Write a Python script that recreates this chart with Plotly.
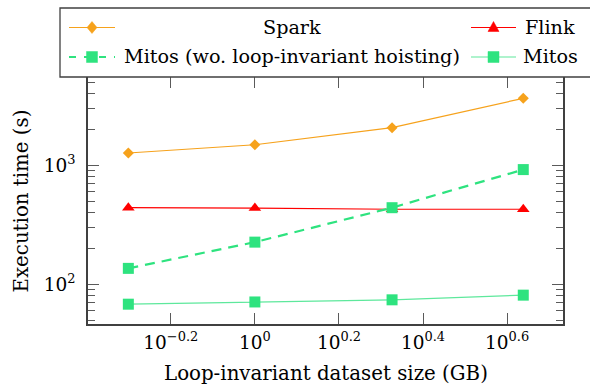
import plotly.graph_objects as go

W, H = 590, 385

# ---- data ----
sizes_gb = [0.5, 1.0, 2.12, 4.35]
spark = [1268, 1488, 2070, 3655]
flink = [440, 437, 427, 427]
mitos_no_hoist = [136, 226, 440, 920]
mitos = [68, 71, 74, 81]

series_names = ["Spark", "Flink", "Mitos (wo. loop-invariant hoisting)", "Mitos"]

x_tick_vals = [10 ** -0.2, 10 ** 0, 10 ** 0.2, 10 ** 0.4, 10 ** 0.6]
x_tick_text = ["10<sup>\u22120.2</sup>", "10<sup>0</sup>", "10<sup>0.2</sup>",
               "10<sup>0.4</sup>", "10<sup>0.6</sup>"]
y_tick_vals = [100, 1000]
y_tick_text = ["10<sup>2</sup>", "10<sup>3</sup>"]
y_minor_vals = [50, 60, 70, 80, 90, 200, 300, 400, 500, 600, 700, 800, 900,
                2000, 3000, 4000, 5000]

x_title = "Loop-invariant dataset size (GB)"
y_title = "Execution time (s)"

# ---- style ----
ORANGE = "#F6A21C"
RED = "#FF0000"
GREEN = "#2EE37F"
GREEN_LINE = "#5EE89C"
AXIS = "#404040"
TICK = "#5a5a5a"
FONT = "DejaVu Serif"
FS = 19.8
FS_LEG = 19.2
FS_TICK = 18.5


def px(x):
    return x / W


def py(y):
    return 1 - y / H


L, R, T, B = 88, 563, 77, 324

fig = go.Figure()
fig.add_trace(go.Scatter(x=sizes_gb, y=spark, mode="lines+markers", name=series_names[0],
                         line=dict(color=ORANGE, width=1.2),
                         marker=dict(symbol="diamond", size=8.5, color=ORANGE)))
fig.add_trace(go.Scatter(x=sizes_gb, y=flink, mode="lines+markers", name=series_names[1],
                         line=dict(color=RED, width=1.2),
                         marker=dict(symbol="triangle-up", size=11, color=RED)))
fig.add_trace(go.Scatter(x=sizes_gb, y=mitos_no_hoist, mode="lines+markers", name=series_names[2],
                         line=dict(color=GREEN, width=2.2, dash="10px,7px"),
                         marker=dict(symbol="square", size=11, color=GREEN)))
fig.add_trace(go.Scatter(x=sizes_gb, y=mitos, mode="lines+markers", name=series_names[3],
                         line=dict(color=GREEN_LINE, width=1.2),
                         marker=dict(symbol="square", size=11, color=GREEN)))

fig.update_layout(
    width=W, height=H,
    margin=dict(l=0, r=0, t=0, b=0),
    paper_bgcolor="white", plot_bgcolor="white",
    showlegend=False,
    font=dict(family=FONT, size=FS, color="black"),
    xaxis=dict(
        type="log", domain=[px(L), px(R)], range=[-0.397, 0.733],
        tickmode="array", tickvals=x_tick_vals, ticktext=x_tick_text,
        ticks="inside", ticklen=11, tickcolor=TICK, tickwidth=1,
        showline=True, linecolor=AXIS, linewidth=1.5, mirror="ticks",
        showgrid=False, zeroline=False, automargin=False,
        ticklabelstandoff=1,
        tickfont=dict(family=FONT, size=FS_TICK),
    ),
    yaxis=dict(
        type="log", domain=[py(B), py(T)], range=[1.666, 3.742],
        tickmode="array", tickvals=y_tick_vals, ticktext=y_tick_text,
        ticks="inside", ticklen=11, tickcolor=TICK, tickwidth=1,
        minor=dict(tickmode="array", tickvals=y_minor_vals, ticks="inside",
                   ticklen=7, tickcolor=TICK, tickwidth=1, showgrid=False),
        showline=True, linecolor=AXIS, linewidth=1.5, mirror="ticks",
        showgrid=False, zeroline=False, automargin=False,
        ticklabelstandoff=7,
        tickfont=dict(family=FONT, size=FS_TICK),
    ),
)

# axis titles
fig.add_annotation(text=x_title, x=px((L + R) / 2), y=py(373), xref="paper", yref="paper",
                   showarrow=False, xanchor="center", yanchor="middle",
                   font=dict(family=FONT, size=FS))
fig.add_annotation(text=y_title, x=px(21), y=py((T + B) / 2 + 1), xref="paper", yref="paper",
                   showarrow=False, xanchor="center", yanchor="middle", textangle=-90,
                   font=dict(family=FONT, size=FS))

# ---- custom legend ----
shapes = []
shapes.append(dict(type="rect", xref="paper", yref="paper",
                   x0=px(60), x1=px(600), y0=py(77), y1=py(8),
                   line=dict(color=AXIS, width=1.3), fillcolor="white", layer="above"))


def seg(x0, x1, y, color, width, dash="solid"):
    return dict(type="line", xref="paper", yref="paper", x0=px(x0), x1=px(x1),
                y0=py(y), y1=py(y), line=dict(color=color, width=width, dash=dash),
                layer="above")


def poly(pts, color):
    d = "M " + " L ".join(f"{px(a):.5f},{py(b):.5f}" for a, b in pts) + " Z"
    return dict(type="path", xref="paper", yref="paper", path=d,
                fillcolor=color, line=dict(color=color, width=0.5), layer="above")


r1, r2 = 27.5, 57
c1a, c1b, c1m = 69, 115, 92
c2a, c2b, c2m = 471, 516, 493.5

shapes.append(seg(c1a, c1b, r1, ORANGE, 1.2))
shapes.append(poly([(c1m - 5, r1), (c1m, r1 - 6), (c1m + 5, r1), (c1m, r1 + 6)], ORANGE))
shapes.append(seg(c2a, c2b, r1, RED, 1.2))
shapes.append(poly([(c2m - 5.5, r1 + 4), (c2m + 5.5, r1 + 4), (c2m, r1 - 6)], RED))
shapes.append(seg(c1a, c1b, r2, GREEN, 2.2, "7px,8px"))
shapes.append(poly([(c1m - 5.5, r2 - 5.5), (c1m + 5.5, r2 - 5.5), (c1m + 5.5, r2 + 5.5), (c1m - 5.5, r2 + 5.5)], GREEN))
shapes.append(seg(c2a, c2b, r2, GREEN_LINE, 1.2))
shapes.append(poly([(c2m - 5.5, r2 - 5.5), (c2m + 5.5, r2 - 5.5), (c2m + 5.5, r2 + 5.5), (c2m - 5.5, r2 + 5.5)], GREEN))
fig.update_layout(shapes=shapes)

for name, cx, cy in [(series_names[0], 292, r1), (series_names[1], 550, r1),
                     (series_names[2], 292, r2), (series_names[3], 550, r2)]:
    fig.add_annotation(text=name, x=px(cx), y=py(cy), xref="paper", yref="paper",
                       showarrow=False, xanchor="center", yanchor="middle",
                       font=dict(family=FONT, size=FS_LEG))

fig.write_html("out.html")
